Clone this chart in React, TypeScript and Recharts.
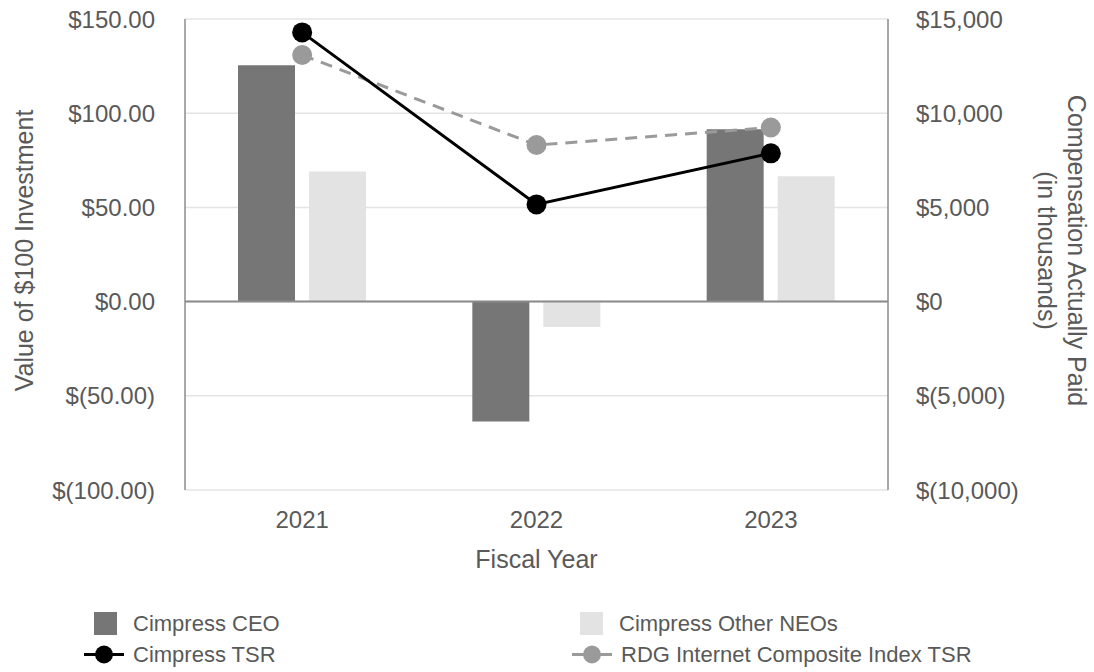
import React from 'react'
import {
  ComposedChart,
  Bar,
  Line,
  XAxis,
  YAxis,
  CartesianGrid,
  ReferenceLine,
  Label,
} from 'recharts'

// fiscal years on the category axis
const years = ['2021', '2022', '2023']

// compensation actually paid, in thousands (right axis)
const ceoPaid = [12550, -6370, 9150]
const otherNeoPaid = [6910, -1350, 6650]

// value of $100 investment (left axis)
const cimpressTsr = [142.9, 51.6, 78.7]
const rdgTsr = [130.9, 83.1, 92.4]

const leftTicks = [-100, -50, 0, 50, 100, 150]
const rightTicks = [-10000, -5000, 0, 5000, 10000, 15000]

const CEO_COLOR = '#767676'
const OTHER_COLOR = '#e3e3e3'
const TSR_COLOR = '#000000'
const RDG_COLOR = '#9a9a9a'
const TEXT_COLOR = '#595959'
const FONT = '"Liberation Sans", Arial, sans-serif'

const data = years.map((year, i) => ({
  year,
  ceo: ceoPaid[i],
  other: otherNeoPaid[i],
  tsr: cimpressTsr[i],
  rdg: rdgTsr[i],
}))

const fmtLeft = (v: number) =>
  v < 0 ? `$(${Math.abs(v).toFixed(2)})` : `$${v.toFixed(2)}`

const fmtRight = (v: number) =>
  v < 0 ? `$(${Math.abs(v).toLocaleString('en-US')})` : `$${v.toLocaleString('en-US')}`

const tickStyle = { fontSize: 24, fill: TEXT_COLOR, fontFamily: FONT }
const titleStyle = { fontSize: 25, fill: TEXT_COLOR, fontFamily: FONT }

function RightAxisLabel(props: any) {
  const { x, y, width, height } = props.viewBox
  const cy = y + height / 2 - 4
  const x1 = x + width - 17
  const x2 = x + width - 47
  return (
    <g fill={TEXT_COLOR} fontSize={25} fontFamily={FONT}>
      <text x={x1} y={cy} textAnchor="middle" dominantBaseline="central" transform={`rotate(90, ${x1}, ${cy})`}>
        Compensation Actually Paid
      </text>
      <text x={x2} y={cy} textAnchor="middle" dominantBaseline="central" transform={`rotate(90, ${x2}, ${cy})`}>
        (in thousands)
      </text>
    </g>
  )
}

const legendItems = [
  { name: 'Cimpress CEO', kind: 'bar', color: CEO_COLOR, left: 94, top: 612 },
  { name: 'Cimpress Other NEOs', kind: 'bar', color: OTHER_COLOR, left: 580, top: 612 },
  { name: 'Cimpress TSR', kind: 'line', color: TSR_COLOR, left: 84, top: 643 },
  { name: 'RDG Internet Composite Index TSR', kind: 'line', color: RDG_COLOR, left: 572, top: 643 },
]

function LegendIcon({ kind, color }: { kind: string; color: string }) {
  if (kind === 'bar') {
    return (
      <svg width={40} height={23}>
        <rect x={0} y={0} width={23} height={23} fill={color} />
      </svg>
    )
  }
  return (
    <svg width={50} height={23}>
      <line x1={0} y1={11.5} x2={40} y2={11.5} stroke={color} strokeWidth={3} />
      <circle cx={20} cy={11.5} r={9} fill={color} />
    </svg>
  )
}

export default function App() {
  return (
    <div style={{ position: 'absolute', left: 0, top: 0, width: 1094, height: 672, background: '#fff', fontFamily: FONT }}>
      <ComposedChart
        width={1094}
        height={672}
        data={data}
        margin={{ top: 19, right: 0, bottom: 102, left: 0 }}
        barSize={57}
        barGap={14}
      >
        <CartesianGrid yAxisId="left" vertical={false} stroke="#e4e4e4" strokeWidth={1.5} />
        <XAxis
          dataKey="year"
          tickLine={false}
          axisLine={false}
          tickSize={0}
          tickMargin={21}
          tick={tickStyle}
          height={80}
        >
          <Label value="Fiscal Year" position="insideBottom" offset={2} style={titleStyle} />
        </XAxis>
        <YAxis
          yAxisId="left"
          width={185}
          domain={[-100, 150]}
          ticks={leftTicks}
          tickFormatter={fmtLeft}
          tickLine={false}
          tickSize={0}
          tickMargin={30}
          tick={tickStyle}
          axisLine={{ stroke: '#8c8c8c', strokeWidth: 1.5 }}
          allowDataOverflow
        >
          <Label
            value="Value of $100 Investment"
            angle={-90}
            position="insideLeft"
            offset={24}
            dy={-4}
            style={{ ...titleStyle, textAnchor: 'middle' }}
          />
        </YAxis>
        <YAxis
          yAxisId="right"
          orientation="right"
          width={206}
          domain={[-10000, 15000]}
          ticks={rightTicks}
          tickFormatter={fmtRight}
          tickLine={false}
          tickSize={0}
          tickMargin={28}
          tick={tickStyle}
          axisLine={{ stroke: '#8c8c8c', strokeWidth: 1.5 }}
          allowDataOverflow
        >
          <Label content={<RightAxisLabel />} />
        </YAxis>
        <ReferenceLine yAxisId="left" y={0} stroke="#8a8a8a" strokeWidth={2} />
        <Bar yAxisId="right" dataKey="ceo" name="Cimpress CEO" fill={CEO_COLOR} isAnimationActive={false} />
        <Bar yAxisId="right" dataKey="other" name="Cimpress Other NEOs" fill={OTHER_COLOR} isAnimationActive={false} />
        <Line
          yAxisId="left"
          dataKey="rdg"
          name="RDG Internet Composite Index TSR"
          stroke={RDG_COLOR}
          strokeWidth={3}
          strokeDasharray="12 8"
          dot={{ r: 10, fill: RDG_COLOR, stroke: 'none' }}
          activeDot={false}
          isAnimationActive={false}
        />
        <Line
          yAxisId="left"
          dataKey="tsr"
          name="Cimpress TSR"
          stroke={TSR_COLOR}
          strokeWidth={3}
          dot={{ r: 10, fill: TSR_COLOR, stroke: 'none' }}
          activeDot={false}
          isAnimationActive={false}
        />
      </ComposedChart>
      {legendItems.map((item) => (
        <div
          key={item.name}
          style={{
            position: 'absolute',
            left: item.left,
            top: item.top,
            display: 'flex',
            alignItems: 'center',
            height: 23,
            fontSize: 22,
            color: TEXT_COLOR,
            whiteSpace: 'nowrap',
          }}
        >
          <LegendIcon kind={item.kind} color={item.color} />
          <span style={{ marginLeft: -1 }}>{item.name}</span>
        </div>
      ))}
    </div>
  )
}
